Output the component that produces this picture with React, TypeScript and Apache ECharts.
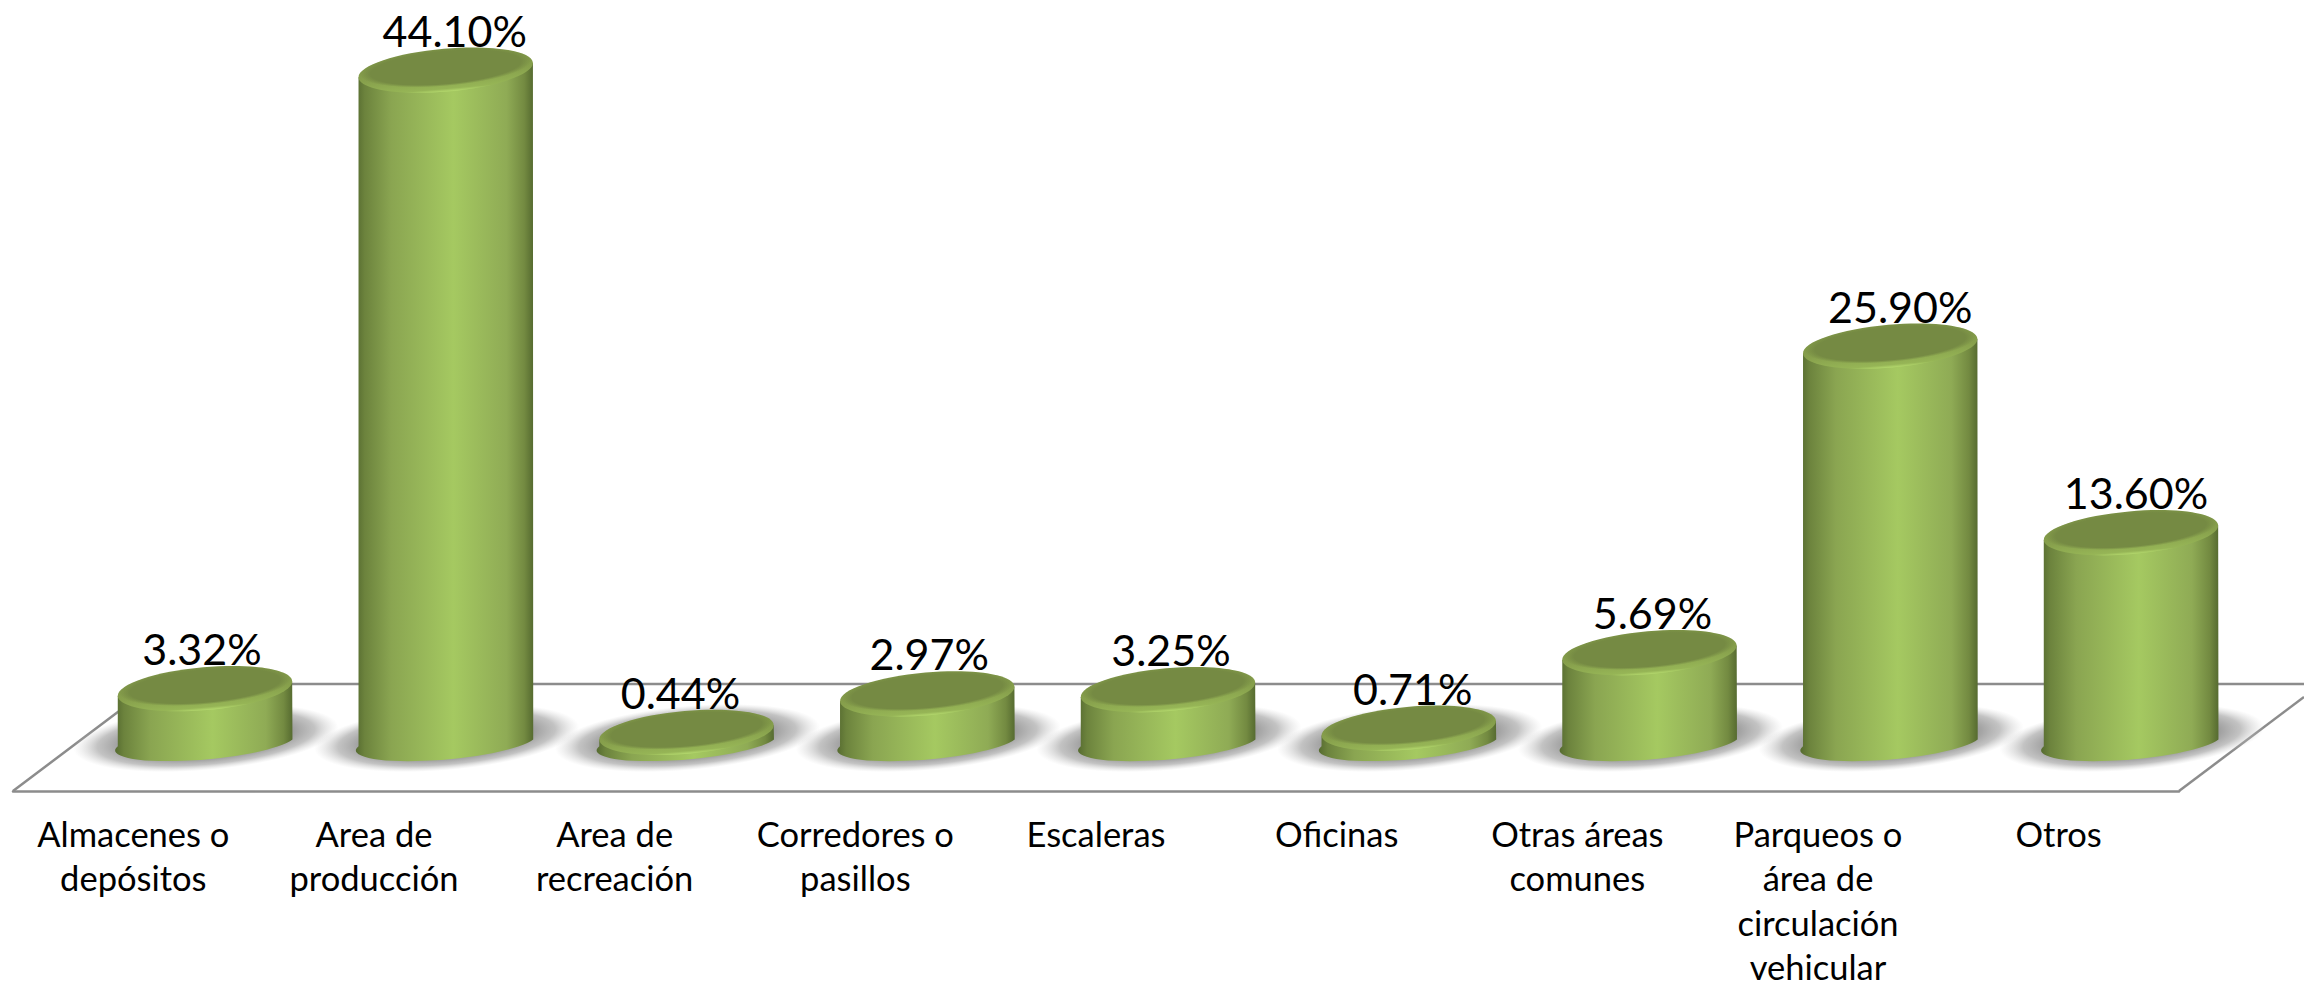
import React, { useEffect, useRef } from "react";
import * as echarts from "echarts";

const categories = [
  "Almacenes o\ndepósitos",
  "Area de\nproducción",
  "Area de\nrecreación",
  "Corredores o\npasillos",
  "Escaleras",
  "Oficinas",
  "Otras áreas\ncomunes",
  "Parqueos o\nárea de\ncirculación\nvehicular",
  "Otros",
];
const values = [3.32, 44.1, 0.44, 2.97, 3.25, 0.71, 5.69, 25.9, 13.6];
const valueLabels = ["3.32%", "44.10%", "0.44%", "2.97%", "3.25%", "0.71%", "5.69%", "25.90%", "13.60%"];
const labelNudgeX = [-3, 9, -6, 2, 3, 4, 3, 10, 5];

const FONT = "Lato, Carlito, Calibri, sans-serif";
const THETA = (5 * Math.PI) / 180;
const EDGE = "#8c8c8c";

function renderCylinder(params: any, api: any) {
  const i = api.value(0);
  const [cx, topY] = api.coord([i, api.value(1)]);
  const [, baseY] = api.coord([i, 0]);
  const a = api.size([1, 0])[0] * 0.3635;
  const b = a * 0.245;
  const bBase = b * 0.75;
  const X = Math.sqrt(a * a * Math.cos(THETA) ** 2 + b * b * Math.sin(THETA) ** 2);
  const yR = (-(a * a - b * b) * Math.sin(THETA) * Math.cos(THETA)) / X;
  const body =
    `M ${cx - X} ${topY - yR} L ${cx - X} ${baseY - yR} ` +
    `A ${a} ${bBase} -5 0 0 ${cx + X} ${baseY + yR} L ${cx + X} ${topY + yR} Z`;
  const ell = (x: number, y: number, rx: number, ry: number, fill: any, z2: number) => ({
    type: "ellipse",
    x,
    y,
    rotation: THETA,
    z2,
    shape: { cx: 0, cy: 0, rx, ry },
    style: { fill },
    silent: true,
  });
  return {
    type: "group",
    children: [
      ell(cx + 1, baseY - 1, a * 1.52, b * 1.5, {
        type: "radial",
        x: 0.5,
        y: 0.5,
        r: 0.5,
        colorStops: [
          { offset: 0, color: "rgba(160,160,160,1)" },
          { offset: 0.66, color: "rgba(160,160,160,1)" },
          { offset: 0.82, color: "rgba(175,175,175,0.75)" },
          { offset: 1, color: "rgba(210,210,210,0)" },
        ],
      }, 1),
      {
        type: "path",
        z2: 3,
        shape: { pathData: body },
        style: {
          fill: {
            type: "linear",
            x: 0,
            y: 0,
            x2: 1,
            y2: 0,
            colorStops: [
              { offset: 0, color: "#566b30" },
              { offset: 0.05, color: "#6c833d" },
              { offset: 0.2, color: "#8aa551" },
              { offset: 0.55, color: "#a5c961" },
              { offset: 0.85, color: "#8fab55" },
              { offset: 0.95, color: "#738a41" },
              { offset: 1, color: "#566b30" },
            ],
          },
        },
      },
      ell(cx, topY, a, b, {
        type: "linear",
        x: 0,
        y: 0,
        x2: 0,
        y2: 1,
        colorStops: [
          { offset: 0, color: "#7a9045" },
          { offset: 0.6, color: "#87a04c" },
          { offset: 0.93, color: "#96b556" },
          { offset: 1, color: "#b4d96d" },
        ],
      }, 4),
      ell(cx, topY - b * 0.12, a * 0.98, b * 0.86, {
        type: "radial",
        x: 0.5,
        y: 0.5,
        r: 0.5,
        colorStops: [
          { offset: 0, color: "rgba(117,138,67,1)" },
          { offset: 0.88, color: "rgba(117,138,67,1)" },
          { offset: 1, color: "rgba(117,138,67,0)" },
        ],
      }, 5),
      {
        type: "text",
        z2: 6,
        style: {
          text: valueLabels[i],
          x: cx + labelNudgeX[i],
          y: topY - 40,
          align: "center",
          verticalAlign: "middle",
          font: `43px ${FONT}`,
          fill: "#000000",
        },
      },
    ],
  };
}

export default function App() {
  const ref = useRef<HTMLDivElement>(null);
  useEffect(() => {
    document.body.style.margin = "0";
    document.body.style.overflow = "hidden";
    const chart = echarts.init(ref.current!, null, { renderer: "svg" });
    chart.setOption({
      animation: false,
      backgroundColor: "#ffffff",
      tooltip: { show: false },
      grid: [
        { left: 84.6, width: 2166.75, top: 11, height: 728, outerBoundsMode: "none" },
        { left: 13, width: 2166, top: 11, height: 780, outerBoundsMode: "none" },
      ],
      xAxis: [
        { gridIndex: 0, type: "category", data: categories, show: false },
        {
          gridIndex: 1,
          type: "category",
          data: categories,
          axisLine: { show: true, lineStyle: { color: EDGE, width: 2.5 } },
          axisTick: { show: false },
          axisLabel: {
            interval: 0,
            margin: 20,
            color: "#000000",
            fontFamily: FONT,
            fontSize: 34.5,
            lineHeight: 44.5,
            align: "center",
            verticalAlign: "top",
          },
        },
      ],
      yAxis: [
        { gridIndex: 0, type: "value", min: 0, max: 48, show: false },
        { gridIndex: 1, type: "value", min: 0, max: 1, show: false },
      ],
      graphic: [
        {
          type: "polyline",
          z: 0,
          silent: true,
          shape: { points: [[13, 791], [155, 684], [2304, 684]] },
          style: { stroke: EDGE, lineWidth: 2.5, fill: "none" },
        },
        {
          type: "line",
          z: 0,
          silent: true,
          shape: { x1: 2179, y1: 791, x2: 2304, y2: 697 },
          style: { stroke: EDGE, lineWidth: 2.5 },
        },
      ],
      series: [
        {
          type: "custom",
          xAxisIndex: 0,
          yAxisIndex: 0,
          clip: false,
          silent: true,
          renderItem: renderCylinder,
          encode: { x: 0, y: 1 },
          data: values.map((v, i) => [i, v]),
        },
      ],
    });
    return () => chart.dispose();
  }, []);
  return <div ref={ref} style={{ width: 2304, height: 991 }} />;
}
